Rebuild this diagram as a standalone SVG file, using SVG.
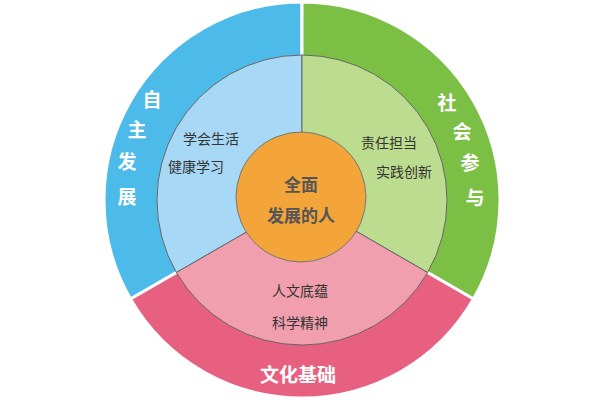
<svg xmlns="http://www.w3.org/2000/svg" width="600" height="400" viewBox="0 0 600 400">
<style>
.o{stroke:#fff;stroke-width:3}
.i{stroke:#666;stroke-width:1}
.ot{font-family:"Noto Sans CJK SC",sans-serif;font-size:19px;font-weight:bold;fill:#fff;text-anchor:middle}
.it{font-family:"Noto Sans CJK SC",sans-serif;font-size:14px;fill:#333;text-anchor:middle}
.ct{font-family:"Noto Sans CJK SC",sans-serif;font-size:17px;font-weight:bold;fill:#555;text-anchor:middle}
</style>
<rect width="600" height="400" fill="#fff"/>
<g id="outer-blue"><path class="o" d="M302 200 L130.5 299 A198 198 0 0 1 302 2 Z" fill="#4dbbe9"/></g>
<g id="outer-green"><path class="o" d="M302 200 L302 2 A198 198 0 0 1 473.5 299 Z" fill="#7cbf45"/></g>
<g id="outer-pink"><path class="o" d="M302 200 L473.5 299 A198 198 0 0 1 130.5 299 Z" fill="#e8607f"/></g>
<g id="inner-blue"><path class="i" d="M302 200 L176.4 272.5 A145 145 0 0 1 302 55 Z" fill="#a7d8f5"/></g>
<g id="inner-green"><path class="i" d="M302 200 L302 55 A145 145 0 0 1 427.6 272.5 Z" fill="#bcdc8f"/></g>
<g id="inner-pink"><path class="i" d="M302 200 L427.6 272.5 A145 145 0 0 1 176.4 272.5 Z" fill="#f19eae"/></g>
<g id="center"><circle cx="301" cy="197" r="65" fill="#f3a53a" stroke="#777" stroke-width="1"/>
<text class="ct" x="301" y="191">全面</text><text class="ct" x="301" y="222">发展的人</text></g>
<g id="labels-outer">
<text class="ot" x="152" y="107">自</text><text class="ot" x="137" y="137">主</text><text class="ot" x="127" y="169">发</text><text class="ot" x="127" y="204">展</text>
<text class="ot" x="447" y="110">社</text><text class="ot" x="462" y="139">会</text><text class="ot" x="470" y="170">参</text><text class="ot" x="475" y="205">与</text>
<text class="ot" x="298" y="382">文化基础</text>
</g>
<g id="labels-inner">
<text class="it" x="211" y="144">学会生活</text><text class="it" x="196" y="172">健康学习</text>
<text class="it" x="389" y="148">责任担当</text><text class="it" x="404" y="177">实践创新</text>
<text class="it" x="300" y="296">人文底蕴</text><text class="it" x="300" y="328">科学精神</text>
</g>
<g id="connectors"></g>
</svg>
